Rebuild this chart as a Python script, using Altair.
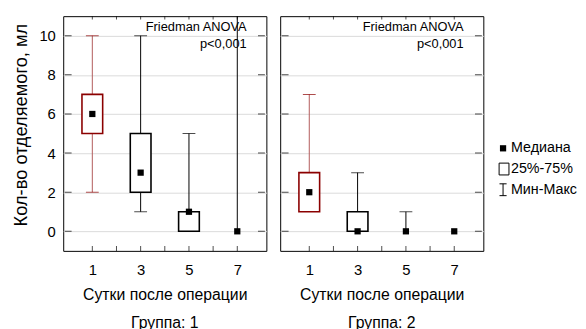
import altair as alt
import pandas as pd

# ---------------- data ----------------
days = [1, 3, 5, 7]
g1_min = [2, 1, 0, 0]
g1_q1 = [5, 2, 0, 0]
g1_med = [6, 3, 1, 0]
g1_q3 = [7, 5, 1, 0]
g1_max = [10, 10, 5, 12]   # day 7 whisker runs past the top of the plot
g2_min = [1, 0, 0, 0]
g2_q1 = [1, 0, 0, 0]
g2_med = [2, 0, 0, 0]
g2_q3 = [3, 1, 0, 0]
g2_max = [7, 3, 1, 0]

x_labels = [1, 3, 5, 7]
x_ticks = [1, 2, 3, 4, 5, 6, 7]
y_labels = [0, 2, 4, 6, 8, 10]
x_domain = [0, 8]
y_domain = [-1, 11]

x_title = "Сутки после операции"
y_title = "Кол-во отделяемого, мл"
group_titles = ["Группа: 1", "Группа: 2"]
annot_text = "Friedman ANOVA\np<0,001"
legend_labels = ["Медиана", "25%-75%", "Мин-Макс"]

FONT = "Liberation Sans"
RED = "#8B0000"
RED_W = "#b25a5a"
GRID = "#dadada"


def panel(mn, q1, med, q3, mx, gtitle, first):
    df = pd.DataFrame({"day": days, "mn": mn, "q1": q1, "med": med, "q3": q3, "mx": mx})
    xs = alt.Scale(domain=x_domain, nice=False, zero=False)
    ys = alt.Scale(domain=y_domain, nice=False, zero=False)
    xaxis = alt.Axis(values=x_labels, ticks=False, domain=False, grid=False,
                     labelFontSize=15, labelPadding=12, labelColor="black", format="d",
                     title=x_title, titleFontSize=16, titleFontWeight="normal",
                     titlePadding=9, titleColor="black")
    if first:
        yaxis = alt.Axis(values=y_labels, ticks=False, domain=False, grid=True,
                         gridColor=GRID, labelFontSize=15, labelPadding=8,
                         labelColor="black", format="d",
                         title=y_title, titleFontSize=18.5, titleFontWeight="normal",
                         titlePadding=9, titleColor="black", titleY=110)
    else:
        yaxis = alt.Axis(values=y_labels, ticks=False, domain=False, grid=True,
                         gridColor=GRID, labels=False, title=None,
                         minExtent=0, maxExtent=0)
    X = alt.X("day:Q", scale=xs, axis=xaxis)

    def Y(f):
        return alt.Y(f, scale=ys, axis=yaxis)

    base = alt.Chart(df)
    box_col = alt.condition("datum.day == 1", alt.value(RED), alt.value("black"))
    wh_col = alt.condition("datum.day == 1", alt.value(RED_W), alt.value("black"))

    up = base.transform_filter("datum.mx > datum.q3").mark_rule(clip=True, strokeWidth=1).encode(
        x=X, y=Y("q3:Q"), y2="mx:Q", color=wh_col)
    lo = base.transform_filter("datum.mn < datum.q1").mark_rule(clip=True, strokeWidth=1).encode(
        x=X, y=Y("mn:Q"), y2="q1:Q", color=wh_col)
    cap_hi = base.transform_filter("datum.mx > datum.q3").mark_tick(
        orient="horizontal", size=13, thickness=1, clip=True).encode(
        x=X, y=Y("mx:Q"), color=box_col)
    cap_lo = base.transform_filter("datum.mn < datum.q1").mark_tick(
        orient="horizontal", size=13, thickness=1, clip=True).encode(
        x=X, y=Y("mn:Q"), color=box_col)
    box = base.transform_filter("datum.q3 > datum.q1").mark_bar(
        width=21, fill="white", strokeWidth=1.6).encode(
        x=X, y=Y("q1:Q"), y2="q3:Q", stroke=box_col)
    medp = base.mark_square(size=40, color="black", opacity=1).encode(x=X, y=Y("med:Q"))

    tx = alt.Chart(pd.DataFrame({"t": x_ticks}))
    ty = alt.Chart(pd.DataFrame({"t": y_labels}))
    t_bot = tx.mark_tick(orient="vertical", size=10, thickness=1, color="black", clip=True).encode(
        x=alt.X("t:Q", scale=xs, axis=xaxis),
        y=alt.YDatum(y_domain[0], type="quantitative", scale=ys, axis=yaxis))
    t_top = tx.mark_tick(orient="vertical", size=7, thickness=1, color="black", clip=True).encode(
        x=alt.X("t:Q", scale=xs, axis=xaxis),
        y=alt.YDatum(y_domain[1], type="quantitative", scale=ys, axis=yaxis))
    t_left = ty.mark_tick(orient="horizontal", size=7, thickness=1, color="black", clip=True).encode(
        y=alt.Y("t:Q", scale=ys, axis=yaxis),
        x=alt.XDatum(x_domain[0], type="quantitative", scale=xs, axis=xaxis))
    t_right = ty.mark_tick(orient="horizontal", size=7, thickness=1, color="black", clip=True).encode(
        y=alt.Y("t:Q", scale=ys, axis=yaxis),
        x=alt.XDatum(x_domain[1], type="quantitative", scale=xs, axis=xaxis))

    ann = alt.Chart(pd.DataFrame({"txt": [annot_text]})).mark_text(
        align="right", baseline="top", fontSize=13, lineBreak="\n", lineHeight=17,
        font=FONT, color="black").encode(
        x=alt.value(186), y=alt.value(5), text="txt:N")

    return alt.layer(t_bot, t_top, t_left, t_right, up, lo, cap_hi, cap_lo, box, medp, ann).properties(
        width=206, height=238,
        title=alt.TitleParams(gtitle, orient="bottom", fontSize=16, fontWeight="normal",
                              font=FONT, offset=13, color="black"))


p1 = panel(g1_min, g1_q1, g1_med, g1_q3, g1_max, group_titles[0], True)
p2 = panel(g2_min, g2_q1, g2_med, g2_q3, g2_max, group_titles[1], False)

# ---------------- legend panel ----------------
leg_df = pd.DataFrame({"label": legend_labels})
ly = alt.Y("label:N", sort=legend_labels,
           scale=alt.Scale(type="point", domain=legend_labels, range=[134, 176], padding=0),
           axis=None)
lb = alt.Chart(leg_df)
l_sq = lb.transform_filter(alt.datum.label == legend_labels[0]).mark_square(
    size=40, color="black", opacity=1).encode(x=alt.value(2), y=ly)
l_box = lb.transform_filter(alt.datum.label == legend_labels[1]).mark_point(
    shape="M-0.833,-1H0.833V1H-0.833Z", size=144, filled=False, color="black",
    strokeWidth=1, opacity=1).encode(x=alt.value(3), y=ly)
l_wh = lb.transform_filter(alt.datum.label == legend_labels[2]).mark_point(
    shape="M-0.6,-1H0.6M0,-1V1M-0.6,1H0.6", size=144, filled=False, color="black",
    strokeWidth=1, opacity=1).encode(x=alt.value(2), y=ly)
l_txt = lb.mark_text(align="left", baseline="middle", fontSize=14.5, font=FONT,
                     color="black").encode(x=alt.value(10), y=ly, text="label:N")
leg = alt.layer(l_sq, l_box, l_wh, l_txt).properties(
    width=60, height=238, view=alt.ViewBackground(stroke="transparent"))

chart = alt.hconcat(p1, p2, leg, spacing=12).properties(
    padding={"left": 2, "top": 5, "right": 0, "bottom": 0}
).configure(font=FONT).configure_view(stroke="black", strokeWidth=1)

chart.save("out.html", embed_options={"renderer": "svg", "actions": False})
